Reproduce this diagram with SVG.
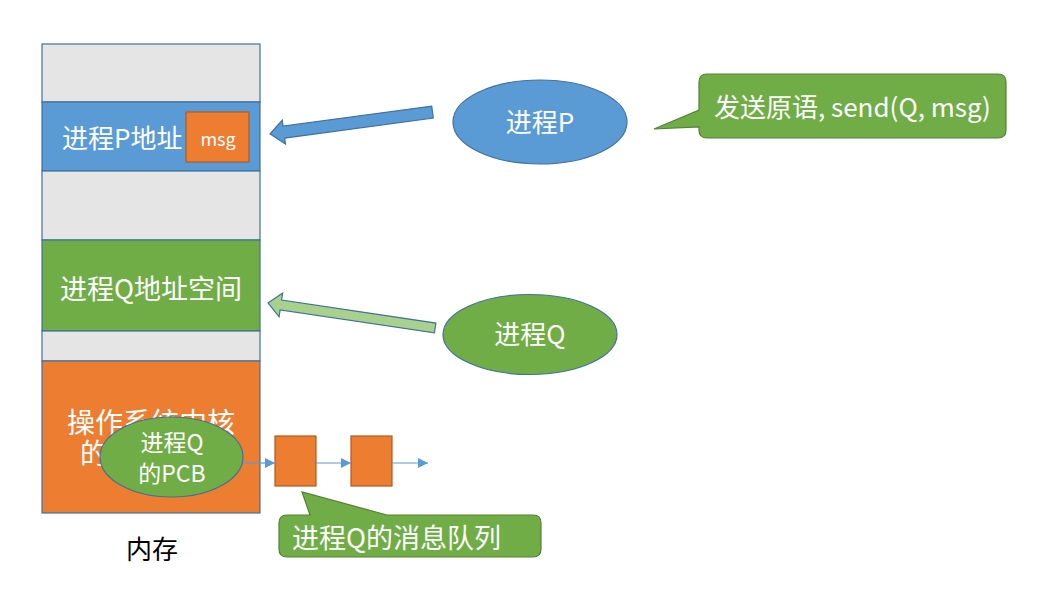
<svg xmlns="http://www.w3.org/2000/svg" width="1053" height="600" viewBox="0 0 1053 600">
<style>
text{font-family:"Noto Sans CJK SC","Liberation Sans",sans-serif;}
.w{fill:#ffffff;}
.sec{stroke:#41719C;stroke-width:1.2;}
.gray{fill:#E5E5E5;}
.orange{fill:#ED7D31;stroke:#AE5A21;stroke-width:1.2;}
.green{fill:#70AD47;}
.blue{fill:#5B9BD5;}
.ell{stroke:#41719C;stroke-width:1.2;}
.call{fill:#70AD47;stroke:#548235;stroke-width:1.2;}
.line{stroke:#5B9BD5;stroke-width:1.2;fill:none;marker-end:url(#ah);}
</style>
<defs>
<marker id="ah" viewBox="0 0 10 10" refX="10" refY="5" markerWidth="10" markerHeight="10" markerUnits="userSpaceOnUse" orient="auto">
<path d="M0,0 L10,5 L0,10 z" fill="#5B9BD5"/>
</marker>
</defs>
<rect width="1053" height="600" fill="#ffffff"/>
<g id="memory">
<rect class="sec gray" x="42" y="44" width="218" height="58"/>
<rect class="sec blue" x="42" y="102" width="218" height="69"/>
<rect class="sec gray" x="42" y="171" width="218" height="69"/>
<rect class="sec green" x="42" y="240" width="218" height="91"/>
<rect class="sec gray" x="42" y="331" width="218" height="30"/>
<rect class="sec" fill="#ED7D31" x="42" y="361" width="218" height="152"/>
<text class="w" x="62" y="148" font-size="26">进程P地址</text>
<text class="w" x="151" y="299" font-size="27" text-anchor="middle">进程Q地址空间</text>
<text class="w" x="151" y="433" font-size="28" text-anchor="middle">操作系统内核</text>
<text class="w" x="80" y="464" font-size="28">的</text>
<text x="152" y="559" font-size="26" fill="#000000" text-anchor="middle">内存</text>
</g>
<g id="msg">
<rect class="orange" x="186" y="112" width="63" height="50"/>
<text class="w" x="218" y="146" font-size="18" text-anchor="middle">msg</text>
</g>
<g id="pcb">
<ellipse class="ell green" cx="171.5" cy="457" rx="71.5" ry="40"/>
<text class="w" x="172" y="451" font-size="23" text-anchor="middle">进程Q</text>
<text class="w" x="172" y="482" font-size="23" text-anchor="middle">的PCB</text>
</g>
<g id="queue1"><rect class="orange" x="275" y="436" width="41" height="50"/></g>
<g id="queue2"><rect class="orange" x="351" y="436" width="41" height="50"/></g>
<g id="procP">
<ellipse class="ell blue" cx="540" cy="122" rx="87" ry="42"/>
<text class="w" x="540" y="132" font-size="26" text-anchor="middle">进程P</text>
</g>
<g id="procQ">
<ellipse class="ell green" cx="530" cy="334.5" rx="87" ry="40"/>
<text class="w" x="530" y="344" font-size="26" text-anchor="middle">进程Q</text>
</g>
<g id="sendCallout">
<path class="call" d="M707,74 H998 Q1006,74 1006,82 V130 Q1006,138 998,138 H707 Q699,138 699,130 V127 L654,129 L699,110 V82 Q699,74 707,74 Z"/>
<text class="w" x="714" y="117" font-size="26">发送原语, send(Q, msg)</text>
</g>
<g id="queueCallout">
<path class="call" d="M287,515 H310 L302,492 L387,515 H533 Q541,515 541,523 V549 Q541,557 533,557 H287 Q279,557 279,549 V523 Q279,515 287,515 Z"/>
<text class="w" x="292" y="548" font-size="27">进程Q的消息队列</text>
</g>
<g id="connectors">
<polygon class="ell blue" transform="translate(270,134) rotate(-7.7)" points="0,0 14,-12 14,-6 164,-6 164,6 14,6 14,12"/>
<polygon class="ell" fill="#A9D18E" transform="translate(268,303) rotate(8.5)" points="0,0 13,-12 13,-5 169,-5 169,5 13,5 13,12"/>
<line class="line" x1="243" y1="463" x2="275" y2="463"/>
<line class="line" x1="316" y1="463" x2="351" y2="463"/>
<line class="line" x1="392" y1="463" x2="428" y2="463"/>
</g>
</svg>
